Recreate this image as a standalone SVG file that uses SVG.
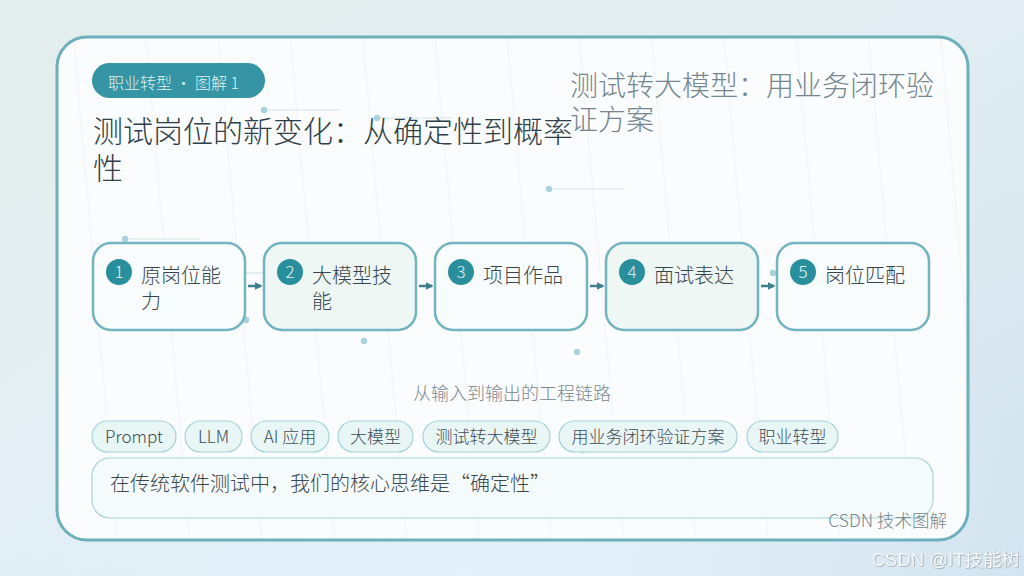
<svg xmlns="http://www.w3.org/2000/svg" width="1024" height="576" viewBox="0 0 1024 576">
<defs>
<linearGradient id="bg" x1="0" y1="0" x2="1" y2="1">
<stop offset="0" stop-color="#e3eeec"/>
<stop offset="0.45" stop-color="#e2eef3"/>
<stop offset="0.8" stop-color="#d8e7f0"/>
<stop offset="1" stop-color="#d2e3ef"/>
</linearGradient>
<radialGradient id="bgglow" cx="0.45" cy="1" r="0.6">
<stop offset="0" stop-color="#e4f1fb" stop-opacity="1"/>
<stop offset="1" stop-color="#e4f1fb" stop-opacity="0"/>
</radialGradient>
<pattern id="stripes" width="72" height="600" patternUnits="userSpaceOnUse" patternTransform="rotate(-5)">
<line x1="70" y1="0" x2="70" y2="600" stroke="#eef2f4" stroke-width="1"/>
</pattern>
<marker id="arr" viewBox="0 0 10 10" refX="8" refY="5" markerWidth="3.2" markerHeight="3.2" orient="auto">
<path d="M0,0 L10,5 L0,10 z" fill="#3d808c"/>
</marker>
<filter id="wm" x="-5%" y="-30%" width="110%" height="160%">
<feDropShadow dx="0.6" dy="0.6" stdDeviation="0.6" flood-color="#7f8a90" flood-opacity="0.9"/>
</filter>
<style>
text{font-family:"Noto Sans CJK SC","Noto Sans",sans-serif;font-weight:300}
.box{stroke:#72b4bf;stroke-width:2.5}
.w{fill:#f8fcfd}
.g{fill:#eef7f4}
.num{fill:#2a8f9c}
.numt{fill:#e3f3f5;font-size:17px;text-anchor:middle}
.lbl{fill:#37464e;font-size:20px}
.tag{fill:#e9f6f6;stroke:#a6d3da;stroke-width:1.2}
.tagt{fill:#3d4c54;font-size:17px;text-anchor:middle}
.dot{fill:#a9d2da}
.dl{stroke:#d2e5ea;stroke-width:1.2}
</style>
</defs>
<rect width="1024" height="576" fill="url(#bg)"/>
<rect width="1024" height="576" fill="url(#bgglow)"/>
<g id="card">
<rect x="57" y="37" width="911" height="503" rx="30" fill="#fbfcfd"/>
<rect x="57" y="37" width="911" height="503" rx="30" fill="url(#stripes)"/>
<rect x="57" y="37" width="911" height="503" rx="30" fill="none" stroke="#6db0bb" stroke-width="3"/>
</g>
<g id="decor">
<line class="dl" x1="264" y1="110" x2="340" y2="110"/><circle class="dot" cx="264" cy="110" r="3.2"/>
<line class="dl" x1="377" y1="118" x2="452" y2="118"/><circle class="dot" cx="377" cy="118" r="3.2"/>
<line class="dl" x1="549" y1="189" x2="625" y2="189"/><circle class="dot" cx="549" cy="189" r="3.2"/>
<line class="dl" x1="125" y1="239" x2="200" y2="239"/><circle class="dot" cx="125" cy="239" r="3.2"/>
<line class="dl" x1="245" y1="273" x2="264" y2="273"/>
<circle class="dot" cx="246" cy="320" r="3.2"/>
<circle class="dot" cx="364" cy="341" r="3.2"/>
<circle class="dot" cx="577" cy="352" r="3.2"/>
<circle class="dot" cx="773" cy="273" r="3.2"/>
<circle class="dot" cx="583" cy="450" r="3.2"/>
<circle cx="468" cy="466" r="3.2" fill="#d8e9ee"/>
</g>
<g id="badge">
<rect x="92" y="63" width="173" height="35" rx="17.5" fill="#3595a5"/>
<text x="108" y="89" font-size="16" fill="#dcf0f2">职业转型 · 图解 1</text>
</g>
<g id="title">
<text x="93" y="142" font-size="30" fill="#2f3f48">测试岗位的新变化：从确定性到概率</text>
<text x="93" y="179" font-size="30" fill="#2f3f48">性</text>
</g>
<g id="subtitle">
<text x="570" y="96" font-size="28" fill="#74878f">测试转大模型：用业务闭环验</text>
<text x="570" y="130" font-size="28" fill="#74878f">证方案</text>
</g>
<g id="connectors" stroke="#3d808c" stroke-width="2.5" fill="none">
<line x1="248" y1="286" x2="261" y2="286" marker-end="url(#arr)"/>
<line x1="419" y1="286" x2="432" y2="286" marker-end="url(#arr)"/>
<line x1="590" y1="286" x2="603" y2="286" marker-end="url(#arr)"/>
<line x1="761" y1="286" x2="774" y2="286" marker-end="url(#arr)"/>
</g>
<g id="node1">
<rect class="box w" x="93" y="243" width="152" height="87" rx="18"/>
<circle class="num" cx="119" cy="272" r="13"/>
<text class="numt" x="119" y="278">1</text>
<text class="lbl" x="141" y="283">原岗位能</text>
<text class="lbl" x="141" y="309">力</text>
</g>
<g id="node2">
<rect class="box g" x="264" y="243" width="152" height="87" rx="18"/>
<circle class="num" cx="290" cy="272" r="13"/>
<text class="numt" x="290" y="278">2</text>
<text class="lbl" x="312" y="283">大模型技</text>
<text class="lbl" x="312" y="309">能</text>
</g>
<g id="node3">
<rect class="box w" x="435" y="243" width="152" height="87" rx="18"/>
<circle class="num" cx="461" cy="272" r="13"/>
<text class="numt" x="461" y="278">3</text>
<text class="lbl" x="483" y="283">项目作品</text>
</g>
<g id="node4">
<rect class="box g" x="606" y="243" width="152" height="87" rx="18"/>
<circle class="num" cx="632" cy="272" r="13"/>
<text class="numt" x="632" y="278">4</text>
<text class="lbl" x="654" y="283">面试表达</text>
</g>
<g id="node5">
<rect class="box w" x="777" y="243" width="152" height="87" rx="18"/>
<circle class="num" cx="803" cy="272" r="13"/>
<text class="numt" x="803" y="278">5</text>
<text class="lbl" x="825" y="283">岗位匹配</text>
</g>
<g id="section">
<text x="512" y="400" font-size="18" fill="#7a8990" text-anchor="middle">从输入到输出的工程链路</text>
</g>
<g id="tags">
<g id="tag1"><rect class="tag" x="92" y="421" width="84" height="31" rx="15.5"/><text class="tagt" x="134" y="443">Prompt</text></g>
<g id="tag2"><rect class="tag" x="185" y="421" width="57" height="31" rx="15.5"/><text class="tagt" x="213.5" y="443">LLM</text></g>
<g id="tag3"><rect class="tag" x="251" y="421" width="78" height="31" rx="15.5"/><text class="tagt" x="290" y="443">AI 应用</text></g>
<g id="tag4"><rect class="tag" x="338" y="421" width="75" height="31" rx="15.5"/><text class="tagt" x="375.5" y="443">大模型</text></g>
<g id="tag5"><rect class="tag" x="423" y="421" width="127" height="31" rx="15.5"/><text class="tagt" x="486.5" y="443">测试转大模型</text></g>
<g id="tag6"><rect class="tag" x="559" y="421" width="178" height="31" rx="15.5"/><text class="tagt" x="648" y="443">用业务闭环验证方案</text></g>
<g id="tag7"><rect class="tag" x="747" y="421" width="91" height="31" rx="15.5"/><text class="tagt" x="792.5" y="443">职业转型</text></g>
</g>
<g id="note">
<rect x="92" y="458" width="841" height="60" rx="18" fill="#f5fafb" stroke="#a6d3da" stroke-width="1.2"/>
<text x="110" y="491" font-size="20" fill="#3a4950">在传统软件测试中，我们的核心思维是“确定性”</text>
</g>
<g id="footer">
<text x="947" y="527" font-size="17.5" fill="#76878f" text-anchor="end">CSDN 技术图解</text>
</g>
<g id="watermark">
<text x="1020" y="566" font-size="18.5" fill="#f6f8f9" text-anchor="end" filter="url(#wm)" style="font-family:'Liberation Sans','Noto Sans CJK SC',sans-serif;font-weight:400">CSDN @IT技能树</text>
</g>
</svg>
